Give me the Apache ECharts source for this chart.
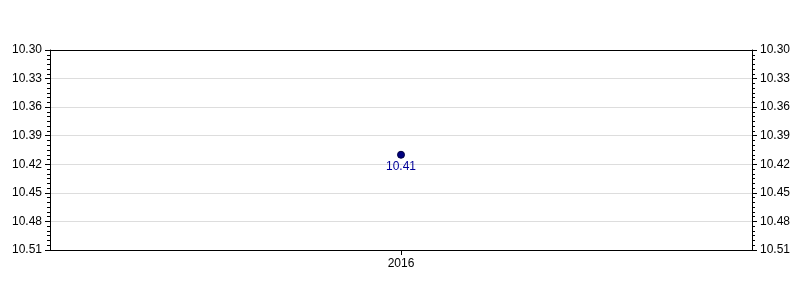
<!DOCTYPE html>
<html><head><meta charset="utf-8">
<script src="https://cdn.jsdelivr.net/npm/echarts@6/dist/echarts.min.js"></script>
<style>html,body{margin:0;padding:0;background:#fff}#c{width:800px;height:300px}</style>
</head><body><div id="c"></div>
<script>
const categories = ['2016'];
const values = [10.41];
const yMin = 10.30, yMax = 10.51, yInterval = 0.03;

const chart = echarts.init(document.getElementById('c'), null, {renderer: 'canvas'});
const font = 'Arial, "Liberation Sans", sans-serif';
function yAxis(pos) {
  return {
    type: 'value', position: pos, inverse: true,
    min: yMin, max: yMax, interval: yInterval,
    axisLine: {show: true, lineStyle: {color: '#000', width: 1}},
    axisTick: {show: true, length: 5, lineStyle: {color: '#000'}},
    minorTick: {show: true, splitNumber: 6, length: 3, lineStyle: {color: '#000'}},
    splitLine: {show: pos === 'left', showMinLine: false, showMaxLine: false, lineStyle: {color: '#dddddd', width: 1}},
    axisLabel: {color: '#000', fontSize: 12, fontFamily: font, margin: 8,
      formatter: v => v.toFixed(2)}
  };
}
chart.setOption({
  animation: false,
  grid: {left: 50, right: 48, top: 50, bottom: 50},
  xAxis: [{
    type: 'category', data: categories, boundaryGap: true, position: 'bottom',
    axisLine: {show: true, lineStyle: {color: '#000'}},
    axisTick: {show: true, alignWithLabel: true, length: 5, lineStyle: {color: '#000'}},
    axisLabel: {color: '#000', fontSize: 12, fontFamily: font, margin: 8},
    splitLine: {show: false}
  }, {
    type: 'category', data: categories, boundaryGap: true, position: 'top',
    axisLine: {show: true, lineStyle: {color: '#000'}},
    axisTick: {show: false}, axisLabel: {show: false}, splitLine: {show: false}
  }],
  yAxis: [yAxis('left'), yAxis('right')],
  series: [{
    type: 'scatter', data: values, xAxisIndex: 0, yAxisIndex: 0,
    symbol: 'circle', symbolSize: 7,
    itemStyle: {color: '#000080', borderColor: '#000040', borderWidth: 1, opacity: 1},
    label: {show: true, position: 'bottom', distance: 2, color: '#000099', fontSize: 12, fontFamily: font,
      formatter: p => p.value.toFixed(2)}
  }]
});
</script></body></html>
